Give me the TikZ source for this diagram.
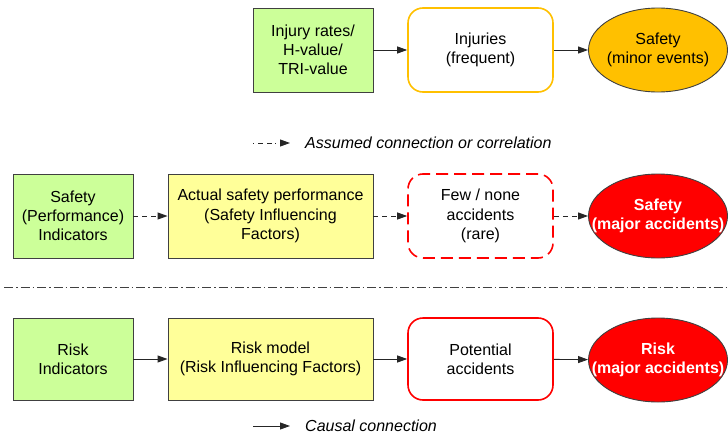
\documentclass[tikz,border=0pt]{standalone}
\usepackage{fontspec}
\setmainfont{Liberation Sans}
\usetikzlibrary{shapes.geometric,arrows.meta}
\definecolor{boxgreen}{HTML}{CCFF99}
\definecolor{boxyellow}{HTML}{FFFF99}
\definecolor{evorange}{HTML}{FFC000}
\definecolor{evred}{HTML}{FF0000}
\definecolor{edge}{HTML}{404040}
\tikzset{
  txt/.style={align=center, font=\fontsize{16}{19.2}\selectfont, text=black},
  indbox/.style={txt, rectangle, draw=edge, line width=0.9pt, fill=boxgreen,
    minimum width=120, minimum height=84, inner sep=0},
  factbox/.style={txt, rectangle, draw=edge, line width=0.9pt, fill=boxyellow,
    minimum width=205, minimum height=84, inner sep=0},
  eventbox/.style={txt, rectangle, rounded corners=15pt, fill=white, line width=1.6pt,
    minimum width=145, minimum height=84, inner sep=0},
  % negative x-sep keeps the ellipse at its fixed size despite the wide text
  outcome/.style={txt, ellipse, draw=edge, line width=0.9pt,
    minimum width=139, minimum height=84, inner xsep=-22pt, inner ysep=0pt},
  arr/.style={line width=0.9pt, draw=black!85, -{Triangle[length=10pt,width=7pt]}},
  assumed/.style={arr, dash pattern=on 5pt off 4pt},
  legassumed/.style={arr, dash pattern=on 1pt off 4pt on 5pt off 4pt on 5pt off 3pt},
  legtxt/.style={anchor=west, font=\fontsize{16}{19.2}\selectfont\itshape, inner sep=0},
}
\begin{document}
\begin{tikzpicture}[x=1pt,y=-1pt]
\useasboundingbox (0,0) rectangle (728,439);

% minor events chain
\node[indbox] (injind) at (313,50) {Injury rates/\\H-value/\\TRI-value};
\node[eventbox, draw=evorange] (injuries) at (480.5,50) {Injuries\\(frequent)};
\node[outcome, fill=evorange] (minor) at (658,50) {Safety\\(minor events)};
\draw[arr] (injind) -- (injuries);
\draw[arr] (injuries) -- (minor);

% legend: assumed connection
\coordinate (la1) at (253,143);
\coordinate (la2) at (290,143);
\draw[legassumed] (la1) -- (la2);
\node[legtxt] (lat) at (305,143) {Assumed connection or correlation};

% safety performance chain
\node[indbox] (spi) at (73,216) {Safety\\(Performance)\\Indicators};
\node[factbox] (asp) at (270.5,216) {Actual safety performance\\(Safety Influencing\\Factors)};
\node[eventbox, draw=evred, dash pattern=on 12pt off 6pt] (few) at (480.5,216) {Few / none\\accidents\\(rare)};
\node[outcome, fill=evred, text=white, font=\fontsize{16}{19.2}\selectfont\bfseries] (safemaj) at (658,216) {Safety\\(major accidents)};
\draw[assumed] (spi) -- (asp);
\draw[assumed] (asp) -- (few);
\draw[assumed] (few) -- (safemaj);

% separator
\coordinate (s1) at (4,287);
\coordinate (s2) at (728,287);
\draw[edge, line width=0.8pt, dash pattern=on 9pt off 3pt on 1.5pt off 3pt] (s1) -- (s2);

% risk chain
\node[indbox, minimum height=82] (ri) at (73,359) {Risk\\Indicators};
\node[factbox, minimum height=82] (rm) at (270.5,359) {Risk model\\(Risk Influencing Factors)};
\node[eventbox, draw=evred, minimum height=82] (pot) at (480.5,359) {Potential\\accidents};
\node[outcome, fill=evred, text=white, font=\fontsize{16}{19.2}\selectfont\bfseries] (risk) at (658,360) {Risk\\(major accidents)};
\draw[arr] (ri) -- (rm);
\draw[arr] (rm) -- (pot);
\draw[arr] (pot) -- (risk);

% legend: causal connection
\coordinate (lc1) at (253,426);
\coordinate (lc2) at (290,426);
\draw[arr] (lc1) -- (lc2);
\node[legtxt] (lct) at (305,426) {Causal connection};
\end{tikzpicture}
\end{document}
